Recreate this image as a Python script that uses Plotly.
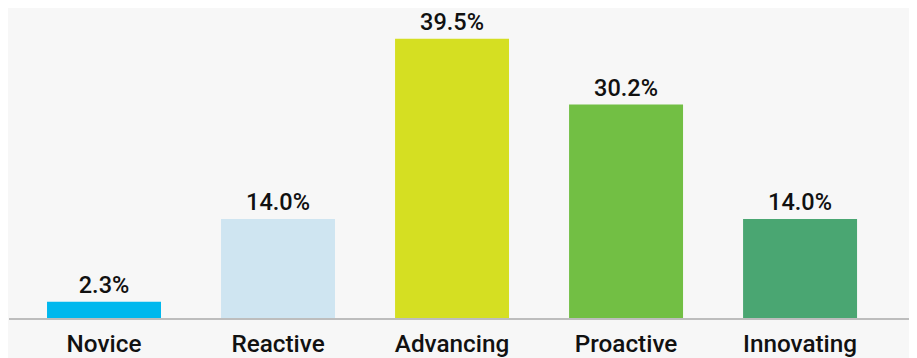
import plotly.graph_objects as go

categories = ["Novice", "Reactive", "Advancing", "Proactive", "Innovating"]
values = [2.3, 14.0, 39.5, 30.2, 14.0]
colors = ["#00b8ee", "#cfe5f1", "#d5df22", "#72bf44", "#4aa672"]

fig = go.Figure(go.Bar(
    x=categories,
    y=values,
    marker=dict(color=colors, line=dict(width=0)),
    width=0.655,
    text=[f"{v:.1f}%" for v in values],
    textposition="outside",
    textfont=dict(family="Roboto", size=23.5, color="#111111", weight=500),
    cliponaxis=False,
))

fig.update_layout(
    width=917, height=358,
    margin=dict(l=1, r=0, t=0, b=48),
    paper_bgcolor="#f7f7f7",
    plot_bgcolor="#f7f7f7",
    showlegend=False,
    font=dict(family="Roboto", color="#111111"),
    xaxis=dict(
        automargin=False,
        showline=True, linecolor="#bdbdbd", linewidth=2,
        showgrid=False, ticks="outside", ticklen=3, tickcolor="rgba(0,0,0,0)",
        tickfont=dict(family="Roboto", size=24.3, color="#111111", weight=500),
        range=[-0.546, 4.718],
    ),
    yaxis=dict(visible=False, range=[0, 43.85], showgrid=False, zeroline=False),
)

fig.write_html("out.html")
